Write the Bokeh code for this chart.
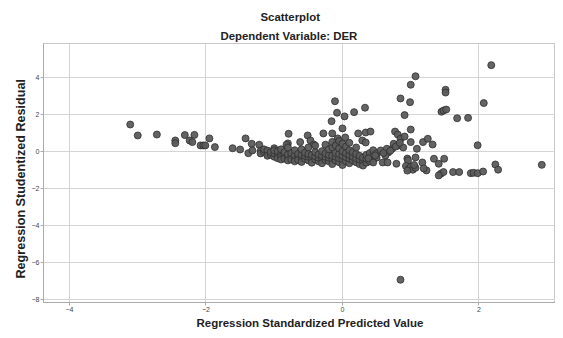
from bokeh.plotting import figure
from bokeh.models import Range1d, FixedTicker, Title
from bokeh.embed import file_html
from bokeh.resources import INLINE

# Regression Standardized Predicted Value (x) / Studentized Residual (y)
left_x = [-3.11, -3.00, -2.72, -2.45, -2.45, -2.31, -2.17, -2.24, -2.20, -2.08, -2.04, -2.01,
          -1.95, -1.87, -1.61, -1.50, -1.42, -1.33, -1.22, -1.38, -1.32, -1.00]
left_y = [1.44, 0.85, 0.90, 0.58, 0.43, 0.87, 0.88, 0.58, 0.49, 0.31, 0.31, 0.31,
          0.69, 0.22, 0.16, 0.09, 0.69, 0.40, 0.35, -0.11, 0.04, 0.16]

upper_x = [-0.79, -0.80, -0.51, -0.47, -0.62, -0.82, -0.42, -0.28, -0.15, -0.07, -0.10, 0.00,
           0.04, -0.16, 0.23, 0.34, 0.41, 0.29, 0.34, -0.11, -0.08, 0.03, 0.17, 0.33]
upper_y = [0.94, 0.42, 0.85, 0.58, 0.49, 0.35, 0.36, 0.96, 0.96, 0.69, 0.42, 1.23,
           0.74, 1.62, 0.96, 1.01, 1.06, 0.58, 0.47, 2.70, 2.08, 1.88, 2.11, 2.35]

cluster_x = [-1.20, -1.20, -1.15, -1.15, -1.10, -1.10, -1.10, -1.05, -1.05,
             -1.00, -1.00, -1.00, -0.95, -0.95, -0.95, -0.90, -0.90, -0.90, -0.90,
             -0.85, -0.85, -0.85, -0.80, -0.80, -0.80, -0.80, -0.75, -0.75, -0.75,
             -0.70, -0.70, -0.70, -0.70, -0.65, -0.65, -0.65, -0.60, -0.60, -0.60, -0.60,
             -0.55, -0.55, -0.55, -0.50, -0.50, -0.50, -0.50, -0.45, -0.45, -0.45,
             -0.40, -0.40, -0.40, -0.40, -0.35, -0.35, -0.35, -0.30, -0.30, -0.30, -0.30,
             -0.25, -0.25, -0.25, -0.25, -0.20, -0.20, -0.20, -0.20,
             -0.15, -0.15, -0.15, -0.15, -0.15, -0.10, -0.10, -0.10, -0.10,
             -0.05, -0.05, -0.05, -0.05, -0.05, 0.00, 0.00, 0.00, 0.00, 0.00,
             0.05, 0.05, 0.05, 0.05, 0.10, 0.10, 0.10, 0.10, 0.10,
             0.15, 0.15, 0.15, 0.20, 0.20, 0.20, 0.20, 0.25, 0.25, 0.25,
             0.30, 0.30, 0.30, 0.35, 0.35, 0.35, 0.40, 0.40, 0.40, 0.45, 0.45, 0.45,
             0.50, 0.50]
cluster_y = [0.02, -0.12, -0.05, 0.10, -0.15, 0.03, -0.25, -0.20, -0.05,
             -0.30, -0.12, 0.05, -0.22, -0.38, 0.00, -0.15, -0.30, -0.45, 0.10,
             -0.25, -0.05, -0.40, -0.35, -0.18, 0.20, -0.50, -0.28, -0.10, -0.45,
             -0.40, -0.22, 0.05, -0.55, -0.30, -0.15, -0.48, -0.35, -0.20, 0.10, -0.58,
             -0.42, -0.25, -0.08, -0.50, -0.30, -0.15, 0.20, -0.38, -0.20, -0.62,
             -0.45, -0.28, -0.05, 0.30, -0.55, -0.35, -0.18, -0.40, -0.25, 0.00, -0.65,
             -0.48, -0.30, -0.12, 0.35, -0.55, -0.35, -0.20, 0.10,
             -0.42, -0.25, 0.20, -0.70, 0.50, -0.50, -0.30, -0.10, 0.30,
             -0.60, -0.38, -0.15, 0.15, 0.55, -0.45, -0.25, 0.00, -0.75, 0.40,
             -0.55, -0.32, -0.10, 0.25, -0.65, -0.40, -0.20, 0.05, 0.45,
             -0.50, -0.30, -0.05, -0.60, -0.38, -0.15, 0.20, -0.70, -0.45, -0.25,
             -0.55, -0.35, -0.78, -0.62, -0.40, -0.20, -0.55, -0.30, -0.10, -0.45, -0.22, 0.05,
             -0.35, -0.12]

right_x = [0.85, 0.99, 1.00, 1.07, 2.18, 1.51, 1.51, 2.07, 0.91, 1.45, 1.48, 1.52,
           1.68, 1.84, 1.00, 0.77, 0.81, 0.85, 0.91, 1.00, 1.09, 1.18, 1.25, 1.32,
           1.98, 1.34, 1.49, 1.41, 1.44, 1.48, 1.41, 1.62, 1.71, 1.88, 1.92, 1.98,
           2.06, 2.24, 2.28, 2.92, 1.23, 0.95, 1.07, 1.17, 0.96, 0.79, 0.59, 0.66,
           0.38, 0.45, 0.48, 0.73, 0.82, 0.89, 0.67, 0.63, 0.93, 0.97, 1.00, 1.03,
           1.07, 0.95, 1.05, 1.19, 0.56, 0.65, 0.75, 0.60, 0.70, 0.78, 0.84, 0.85]
right_y = [2.85, 2.65, 3.59, 4.05, 4.65, 3.32, 3.17, 2.60, 1.95, 2.13, 2.20, 2.25,
           1.78, 1.80, 1.17, 1.06, 0.90, 0.67, 0.79, 0.49, 0.13, 0.49, 0.67, 0.36,
           0.32, -0.41, -0.41, -0.68, -1.22, -1.13, -1.31, -1.13, -1.13, -1.19, -1.17, -1.19,
           -1.10, -0.72, -1.00, -0.74, -1.04, -0.40, -0.34, -0.61, -0.50, -0.68, -0.61, -0.61,
           -0.39, -0.61, -0.23, 0.14, 0.31, 0.20, -0.07, -0.23, -0.80, -0.95, -0.85, -1.00,
           -0.90, -1.05, -0.75, -0.93, 0.04, 0.13, 0.40, -0.10, 0.02, 0.25, 0.45, -6.95]

x_ticks = [-4, -2, 0, 2]
y_ticks = [-8, -6, -4, -2, 0, 2, 4]

xs = left_x + upper_x + cluster_x + right_x
ys = left_y + upper_y + cluster_y + right_y

FONT = "Liberation Sans"

p = figure(width=555, height=332, output_backend="svg", toolbar_location=None,
           x_range=Range1d(-4.381, 3.121), y_range=Range1d(-8.18, 5.82),
           min_border_left=43, min_border_right=0, min_border_top=43, min_border_bottom=30)
p.background_fill_color = "white"
p.border_fill_color = "white"
p.outline_line_color = "#c8c8c8"

sub = Title(text="Dependent Variable: DER", align="left", offset=177,
            text_font=FONT, text_font_size="11.4px", text_font_style="bold",
            text_color="#222222", standoff=3)
p.add_layout(sub, "above")
main = Title(text="Scatterplot", align="left", offset=217,
             text_font=FONT, text_font_size="11.4px", text_font_style="bold",
             text_color="#222222", standoff=8)
p.add_layout(main, "above")

xtitle = Title(text="Regression Standardized Predicted Value", align="left", offset=153,
               text_font=FONT, text_font_size="11.5px", text_font_style="bold",
               text_color="#222222", standoff=0)
p.add_layout(xtitle, "below")

ytitle = Title(text="Regression Studentized Residual", align="left", offset=24,
               text_font=FONT, text_font_size="12.6px", text_font_style="bold",
               text_color="#222222", standoff=2)
p.add_layout(ytitle, "left")

p.scatter(xs, ys, size=7, fill_color="#5c5c5c", line_color="#2e2e2e",
          line_width=0.8, fill_alpha=0.95)

for ax, ticks in ((p.xaxis, x_ticks), (p.yaxis, y_ticks)):
    ax.ticker = FixedTicker(ticks=ticks)
    ax.minor_tick_line_color = None
    ax.major_tick_in = 0
    ax.major_tick_out = 3
    ax.major_tick_line_color = "#aaaaaa"
    ax.axis_line_color = "#aaaaaa"
    ax.major_label_text_font = FONT
    ax.major_label_text_font_size = "7px"
    ax.major_label_text_color = "#444444"
    ax.major_label_standoff = 1

p.xgrid.ticker = FixedTicker(ticks=x_ticks)
p.ygrid.ticker = FixedTicker(ticks=y_ticks)
p.xgrid.grid_line_color = "#d4d4d4"
p.ygrid.grid_line_color = "#d4d4d4"

open("out.html", "w").write(file_html(p, INLINE))
